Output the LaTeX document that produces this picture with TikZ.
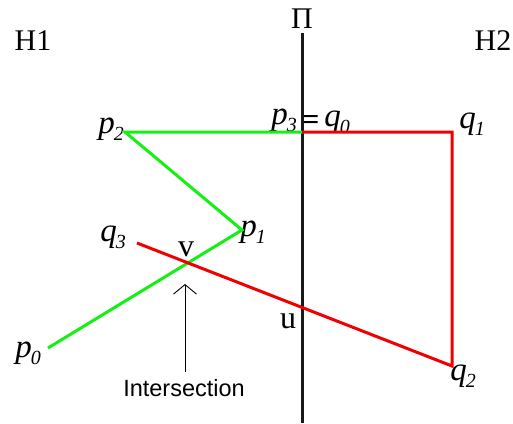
\documentclass[tikz,border=0pt]{standalone}
\usepackage{fontspec}
\setmainfont{Liberation Serif}
\setsansfont{Liberation Sans}
\usepackage{xcolor}
\usetikzlibrary{arrows.meta,positioning,calc}

\definecolor{pgreen}{RGB}{20,240,20}
\definecolor{qred}{RGB}{240,0,0}
\newcommand{\ptlab}[2]{\textit{#1}\kern-1pt\raisebox{-7pt}{\fontsize{20}{20}\selectfont\itshape #2}}

\begin{document}
\begin{tikzpicture}[
    x=1pt, y=-1pt,
    lbl/.style={inner sep=0pt, font=\fontsize{33}{33}\selectfont},
    rom/.style={inner sep=0pt, font=\fontsize{30}{30}\selectfont},
    pline/.style={draw=pgreen, line width=3pt, line join=miter},
    qline/.style={draw=qred, line width=3pt, line join=miter},
    wall/.style={draw=black!90, line width=3pt},
    arr/.style={-{Straight Barb[length=9.5pt, width=23pt, line width=0.9pt]}, line width=0.9pt},
]
    \useasboundingbox (0,0) rectangle (513,423);

    % points
    \coordinate (P0) at (48,348);
    \coordinate (P1) at (242,230);
    \coordinate (P2) at (125,132);
    \coordinate (P3) at (302,132);
    \coordinate (Q1) at (452,132);
    \coordinate (Q2) at (452,366);
    \coordinate (Q3) at (137,243);
    \coordinate (wtop) at (302,33);
    \coordinate (wbot) at (302,423);
    \coordinate (tip) at (185,284);
    \coordinate (tail) at (185,372);

    % labels
    \node[rom] (pi) at (302,19) {Π};
    \node[rom] (h1) at (33,41) {H1};
    \node[rom] (h2) at (493,41) {H2};
    \node[lbl] (lp2) at (111,129) {\ptlab{p}{2}};
    \node[lbl] (lp3) at (284,120) {\ptlab{p}{3}};
    \node[inner sep=0pt, font=\fontsize{30}{30}\selectfont\bfseries] (eq) at (311,122) {=};
    \node[lbl] (lq0) at (337,122) {\ptlab{q}{0}};
    \node[lbl] (lq1) at (472,124) {\ptlab{q}{1}};
    \node[lbl] (lq3) at (113,237) {\ptlab{q}{3}};
    \node[lbl] (lp1) at (253,232) {\ptlab{p}{1}};
    \node[lbl] (lp0) at (28,353) {\ptlab{p}{0}};
    \node[lbl] (lq2) at (463,376) {\ptlab{q}{2}};
    \node[rom, font=\fontsize{32}{32}\selectfont] (lv) at (186,249) {v};
    \node[rom, font=\fontsize{32}{32}\selectfont] (lu) at (288,321) {u};
    \node[inner sep=0pt, font=\fontsize{23.5}{23.5}\selectfont\sffamily, anchor=north] (isec) at (184,379) {Intersection};

    % plane
    \draw[wall] (wtop) -- (wbot);

    % paths
    \draw[pline] (P0) -- (P1) -- (P2) -- (P3);
    \draw[qline] (P3) -- (Q1) -- (Q2) -- (Q3);

    \draw[arr] (tail) -- (tip);
\end{tikzpicture}
\end{document}
